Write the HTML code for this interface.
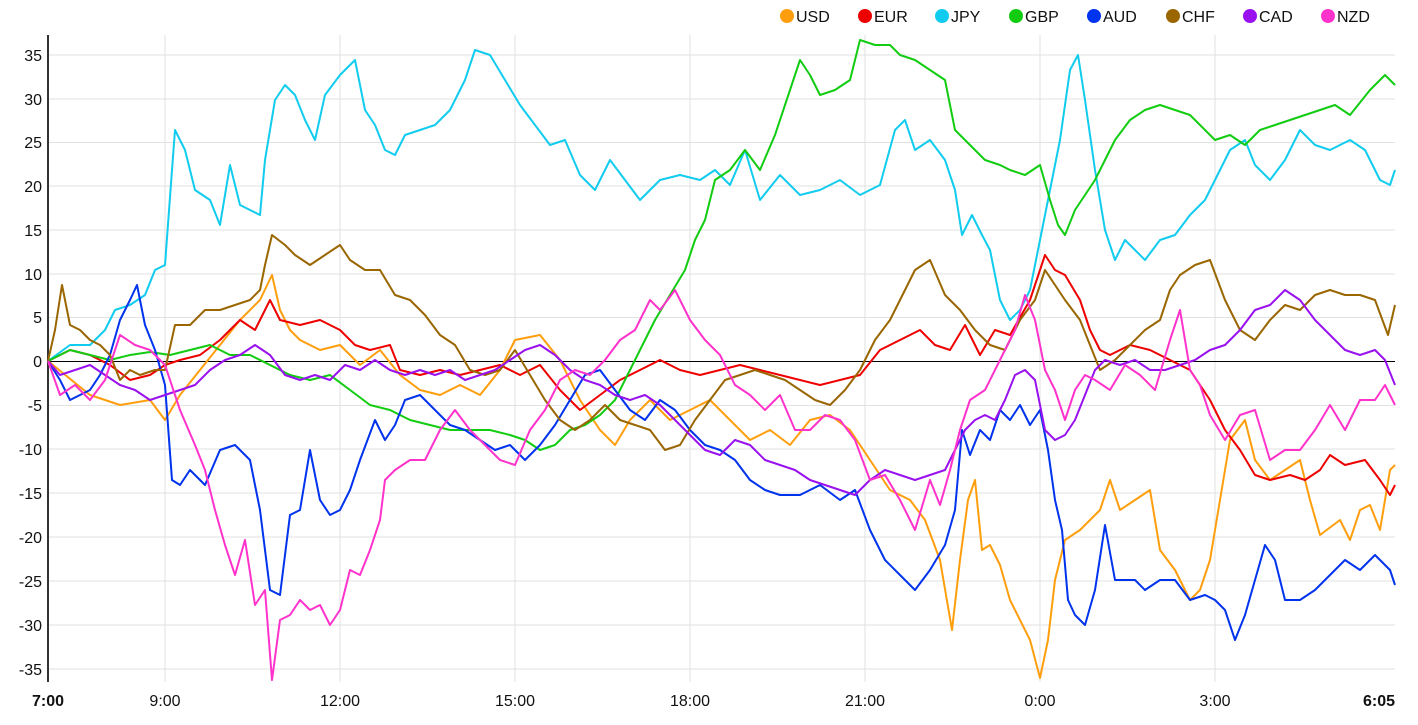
<!DOCTYPE html>
<html><head><meta charset="utf-8"><style>
body{margin:0;background:#fff;width:1418px;height:720px;overflow:hidden;font-family:"Liberation Sans",Arial,sans-serif}
</style></head><body>
<svg width="1418" height="720" xmlns="http://www.w3.org/2000/svg" font-family="Liberation Sans, Arial, sans-serif">
<g stroke="#e2e2e2" stroke-width="1">
<line x1="48" x2="1395" y1="55" y2="55"/><line x1="48" x2="1395" y1="99" y2="99"/><line x1="48" x2="1395" y1="142.5" y2="142.5"/><line x1="48" x2="1395" y1="186" y2="186"/><line x1="48" x2="1395" y1="230" y2="230"/><line x1="48" x2="1395" y1="274" y2="274"/><line x1="48" x2="1395" y1="317.5" y2="317.5"/><line x1="48" x2="1395" y1="405.5" y2="405.5"/><line x1="48" x2="1395" y1="449" y2="449"/><line x1="48" x2="1395" y1="493" y2="493"/><line x1="48" x2="1395" y1="537" y2="537"/><line x1="48" x2="1395" y1="581" y2="581"/><line x1="48" x2="1395" y1="625" y2="625"/><line x1="48" x2="1395" y1="669" y2="669"/>
<line x1="165" x2="165" y1="35" y2="682"/><line x1="340" x2="340" y1="35" y2="682"/><line x1="515" x2="515" y1="35" y2="682"/><line x1="690" x2="690" y1="35" y2="682"/><line x1="865" x2="865" y1="35" y2="682"/><line x1="1040" x2="1040" y1="35" y2="682"/><line x1="1215" x2="1215" y1="35" y2="682"/>
</g>
<line x1="48" x2="1395" y1="361.5" y2="361.5" stroke="#000" stroke-width="1"/>
<line x1="48" x2="48" y1="35" y2="682" stroke="#333" stroke-width="2"/>
<g font-size="16" fill="#111" text-anchor="end">
<text x="42" y="61">35</text><text x="42" y="105">30</text><text x="42" y="148">25</text><text x="42" y="192">20</text><text x="42" y="236">15</text><text x="42" y="280">10</text><text x="42" y="323">5</text><text x="42" y="367">0</text><text x="42" y="411">-5</text><text x="42" y="455">-10</text><text x="42" y="499">-15</text><text x="42" y="543">-20</text><text x="42" y="587">-25</text><text x="42" y="631">-30</text><text x="42" y="675">-35</text>
</g>
<g font-size="16" fill="#111" text-anchor="middle">
<text x="48" y="706" font-weight="bold">7:00</text><text x="165" y="706">9:00</text><text x="340" y="706">12:00</text><text x="515" y="706">15:00</text><text x="690" y="706">18:00</text><text x="865" y="706">21:00</text><text x="1040" y="706">0:00</text><text x="1215" y="706">3:00</text><text x="1395" y="706" font-weight="bold" text-anchor="end">6:05</text>
</g>
<g fill="none" stroke-width="2" stroke-linejoin="round">
<polyline stroke="#ff9e0d" points="48,361 90,395 120,405 150,400 165,420 180,395 200,370 220,345 240,320 260,300 272,275 280,310 290,330 300,340 320,350 340,345 360,365 380,350 400,375 420,390 440,395 460,385 480,395 500,370 515,340 540,335 560,360 580,400 600,430 615,445 630,420 650,400 670,420 690,410 710,400 730,420 750,440 770,430 790,445 810,420 830,415 850,430 870,460 890,490 910,500 925,520 940,560 952,630 960,560 968,500 975,480 982,550 990,545 1000,565 1010,600 1020,620 1030,640 1040,678 1048,640 1055,580 1065,540 1080,530 1100,510 1110,480 1120,510 1135,500 1150,490 1160,550 1175,570 1190,600 1200,590 1210,560 1220,500 1230,440 1245,420 1255,460 1270,480 1285,470 1300,460 1310,500 1320,535 1340,520 1350,540 1360,510 1370,505 1380,530 1390,470 1395,465"/>
<polyline stroke="#ee0000" points="48,361 70,350 90,355 110,365 130,380 150,375 165,365 180,360 200,355 220,340 240,320 255,330 270,300 280,320 300,325 320,320 340,330 355,345 370,350 390,345 400,370 420,375 440,370 460,375 480,370 500,365 520,375 540,365 560,390 580,410 600,395 620,380 640,370 660,360 680,370 700,375 720,370 740,365 760,370 780,375 800,380 820,385 840,380 860,375 880,350 900,340 920,330 935,345 950,350 965,325 980,355 995,330 1010,335 1030,300 1045,255 1055,270 1065,275 1080,300 1090,330 1100,350 1110,355 1130,345 1150,350 1170,360 1190,370 1210,400 1225,430 1240,450 1255,475 1270,480 1290,475 1305,480 1320,470 1330,455 1345,465 1365,460 1380,480 1390,495 1395,485"/>
<polyline stroke="#11ccee" points="48,361 70,345 90,345 105,330 115,310 130,305 145,295 155,270 165,265 172,170 175,130 185,150 195,190 210,200 220,225 230,165 240,205 250,210 260,215 265,160 275,100 285,85 295,95 305,120 315,140 325,95 340,75 355,60 365,110 375,125 385,150 395,155 405,135 420,130 435,125 450,110 465,80 475,50 490,55 505,80 520,105 535,125 550,145 565,140 580,175 595,190 610,160 625,180 640,200 660,180 680,175 700,180 715,170 730,185 745,150 760,200 780,175 800,195 820,190 840,180 860,195 880,185 895,130 905,120 915,150 930,140 945,160 955,190 962,235 972,215 982,235 990,250 1000,300 1010,320 1020,310 1030,290 1040,240 1050,190 1060,140 1070,70 1078,55 1085,100 1095,170 1105,230 1115,260 1125,240 1135,250 1145,260 1160,240 1175,235 1190,215 1205,200 1215,180 1230,150 1245,140 1255,165 1270,180 1285,160 1300,130 1315,145 1330,150 1350,140 1365,150 1380,180 1390,185 1395,170"/>
<polyline stroke="#11cc11" points="48,361 70,350 90,355 110,360 130,355 150,352 170,355 190,350 210,345 230,355 250,355 270,365 290,375 310,380 330,375 350,390 370,405 390,410 410,420 430,425 450,430 470,430 490,430 510,435 525,440 540,450 555,445 570,430 585,425 600,415 615,400 625,380 640,350 655,320 670,295 685,270 695,240 705,220 715,180 730,170 745,150 760,170 775,135 790,90 800,60 810,75 820,95 835,90 850,80 860,40 875,45 890,45 900,55 915,60 930,70 945,80 955,130 965,140 975,150 985,160 1000,165 1010,170 1025,175 1040,165 1050,200 1058,225 1065,235 1075,210 1085,195 1095,180 1105,160 1115,140 1130,120 1145,110 1160,105 1175,110 1190,115 1200,125 1215,140 1230,135 1245,145 1260,130 1275,125 1290,120 1305,115 1320,110 1335,105 1350,115 1370,90 1385,75 1395,85"/>
<polyline stroke="#0033ee" points="48,361 60,380 70,400 80,395 90,390 100,375 110,355 120,320 130,300 137,285 145,325 155,350 165,385 172,480 180,485 190,470 205,485 220,450 235,445 250,460 260,510 270,590 280,595 290,515 300,510 310,450 320,500 330,515 340,510 350,490 360,460 375,420 385,440 395,425 405,400 420,395 435,410 450,425 465,430 480,440 495,450 510,445 525,460 540,445 555,425 570,400 585,375 600,370 615,390 630,410 645,420 660,400 675,410 690,430 705,445 720,450 735,460 750,480 765,490 780,495 800,495 820,485 840,500 855,490 870,530 885,560 900,575 915,590 930,570 945,545 955,510 962,430 970,455 980,430 990,440 1000,410 1010,420 1020,405 1030,425 1040,410 1048,450 1055,500 1062,530 1068,600 1075,615 1085,625 1095,590 1105,525 1115,580 1125,580 1135,580 1145,590 1160,580 1175,580 1190,600 1205,595 1215,600 1225,610 1235,640 1245,615 1255,580 1265,545 1275,560 1285,600 1300,600 1315,590 1330,575 1345,560 1360,570 1375,555 1390,570 1395,585"/>
<polyline stroke="#996600" points="48,361 55,330 62,285 70,325 80,330 90,340 100,345 110,355 120,380 130,370 140,375 155,370 165,370 175,325 190,325 205,310 220,310 235,305 250,300 260,290 265,265 272,235 285,245 295,255 310,265 325,255 340,245 350,260 365,270 380,270 395,295 410,300 425,315 440,335 455,345 470,370 485,375 500,370 515,350 530,375 545,400 560,420 575,430 590,420 605,405 620,420 635,425 650,430 665,450 680,445 695,420 710,400 725,380 740,375 755,370 770,375 785,380 800,390 815,400 830,405 845,390 860,370 875,340 890,320 900,300 915,270 930,260 945,295 960,310 975,330 990,345 1005,350 1020,320 1035,300 1045,270 1055,285 1065,300 1080,320 1090,345 1100,370 1115,360 1130,345 1145,330 1160,320 1170,290 1180,275 1195,265 1210,260 1225,300 1240,330 1255,340 1270,320 1285,305 1300,310 1315,295 1330,290 1345,295 1360,295 1375,300 1388,335 1395,305"/>
<polyline stroke="#9911ee" points="48,361 60,375 75,370 90,365 105,375 120,385 135,390 150,400 165,395 180,390 195,385 210,370 225,360 240,355 255,345 270,355 285,375 300,380 315,375 330,380 345,365 360,370 375,360 390,370 405,375 420,370 435,375 450,370 465,380 480,375 495,370 510,360 525,350 540,345 555,355 570,370 585,380 600,385 615,395 630,400 645,395 660,405 675,420 690,435 705,450 720,455 735,440 750,445 765,460 780,465 795,470 810,480 825,485 840,490 855,495 870,480 885,470 900,475 915,480 930,475 945,470 955,450 965,430 975,420 985,415 995,420 1005,400 1015,375 1025,370 1035,380 1045,430 1055,440 1065,435 1075,420 1085,395 1095,370 1105,360 1120,365 1135,360 1150,370 1165,370 1180,365 1195,360 1210,350 1225,345 1240,330 1255,310 1270,305 1285,290 1300,300 1315,320 1330,335 1345,350 1360,355 1375,350 1385,360 1395,385"/>
<polyline stroke="#ff33cc" points="48,361 60,395 75,385 90,400 105,380 120,335 135,345 150,350 165,365 180,410 195,445 205,470 215,510 225,545 235,575 245,540 255,605 265,590 272,680 280,620 290,615 300,600 310,610 320,605 330,625 340,610 350,570 360,575 370,550 380,520 385,480 395,470 410,460 425,460 440,430 455,410 470,430 485,445 500,460 515,465 530,430 545,410 560,380 575,370 590,375 605,360 620,340 635,330 650,300 660,310 675,290 690,320 705,340 720,355 735,385 750,395 765,410 780,395 795,430 810,430 825,415 840,420 855,440 870,480 885,475 900,500 915,530 930,480 940,505 950,470 960,430 970,400 985,390 1000,360 1015,330 1025,295 1035,320 1045,370 1055,390 1065,420 1075,390 1085,375 1095,380 1110,390 1125,365 1140,375 1155,390 1170,340 1180,310 1190,370 1200,385 1210,415 1225,440 1240,415 1255,410 1270,460 1285,450 1300,450 1315,430 1330,405 1345,430 1360,400 1375,400 1385,385 1395,405"/>
</g>
<g font-size="16" fill="#111">
<circle cx="787" cy="16" r="7" fill="#ff9e0d"/><text x="796" y="22">USD</text>
<circle cx="865" cy="16" r="7" fill="#ee0000"/><text x="874" y="22">EUR</text>
<circle cx="942" cy="16" r="7" fill="#11ccee"/><text x="951" y="22">JPY</text>
<circle cx="1016" cy="16" r="7" fill="#11cc11"/><text x="1025" y="22">GBP</text>
<circle cx="1094" cy="16" r="7" fill="#0033ee"/><text x="1103" y="22">AUD</text>
<circle cx="1173" cy="16" r="7" fill="#996600"/><text x="1182" y="22">CHF</text>
<circle cx="1250" cy="16" r="7" fill="#9911ee"/><text x="1259" y="22">CAD</text>
<circle cx="1328" cy="16" r="7" fill="#ff33cc"/><text x="1337" y="22">NZD</text>
</g>
</svg>
</body></html>
